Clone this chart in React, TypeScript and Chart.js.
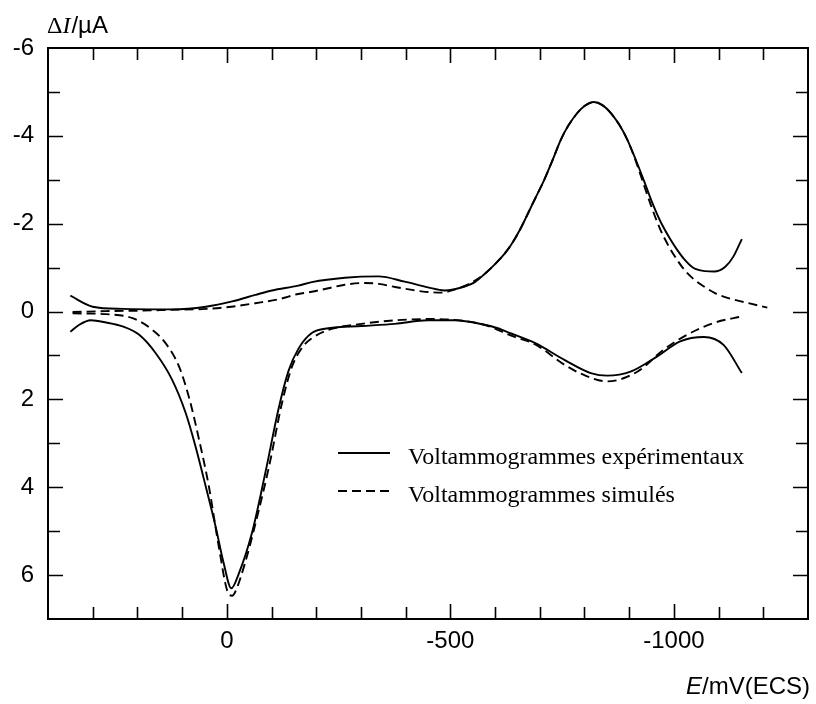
import React, { useEffect, useRef } from 'react';
import { Chart, registerables } from 'chart.js';

Chart.register(...registerables);

// ---- Data (E in mV vs ECS, ΔI in µA) ----
const expUpperE = [350, 300, 233, 122, 47, -12, -64, -101, -160, -190, -264, -339, -398, -450, -487, -532, -555, -576, -600, -620, -636, -655, -673, -690, -710, -730, -747, -765, -784, -800, -821, -840, -859, -878, -896, -915, -933, -950, -970, -990, -1007, -1025, -1044, -1070, -1090, -1115, -1133, -1152];
const expUpperI = [-0.36, -0.11, -0.06, -0.05, -0.11, -0.23, -0.38, -0.48, -0.59, -0.67, -0.77, -0.8, -0.68, -0.55, -0.48, -0.57, -0.67, -0.85, -1.08, -1.3, -1.52, -1.85, -2.22, -2.58, -3.0, -3.48, -3.91, -4.25, -4.52, -4.68, -4.77, -4.7, -4.52, -4.25, -3.91, -3.45, -2.98, -2.52, -2.05, -1.68, -1.41, -1.17, -0.99, -0.92, -0.91, -1.02, -1.25, -1.65];

const expLowerE = [350, 330, 304, 270, 233, 196, 159, 122, 92, 70, 47, 25, 7, -10, -27, -56, -86, -116, -138, -160, -190, -227, -302, -376, -450, -509, -576, -606, -636, -690, -755, -814, -851, -903, -963, -1014, -1067, -1111, -1152];
const expLowerI = [0.46, 0.3, 0.2, 0.25, 0.34, 0.53, 0.95, 1.56, 2.31, 3.07, 3.99, 4.9, 5.73, 6.3, 5.96, 5.05, 3.68, 2.2, 1.35, 0.85, 0.49, 0.38, 0.33, 0.28, 0.2, 0.2, 0.3, 0.38, 0.5, 0.72, 1.1, 1.4, 1.46, 1.37, 1.02, 0.68, 0.58, 0.76, 1.4];

const simUpperE = [345, 270, 196, 122, 47, -10, -64, -116, -160, -190, -227, -264, -309, -340, -376, -435, -480, -509, -540, -576, -600, -620, -636, -655, -673, -690, -710, -730, -747, -765, -784, -800, -821, -840, -859, -878, -896, -915, -933, -950, -970, -990, -1007, -1025, -1044, -1070, -1092, -1111, -1163, -1209];
const simUpperI = [0.01, -0.01, -0.02, -0.04, -0.06, -0.11, -0.19, -0.28, -0.4, -0.45, -0.53, -0.61, -0.65, -0.63, -0.56, -0.46, -0.43, -0.5, -0.62, -0.85, -1.08, -1.3, -1.52, -1.85, -2.22, -2.58, -3.0, -3.48, -3.91, -4.25, -4.52, -4.68, -4.77, -4.7, -4.52, -4.25, -3.91, -3.42, -2.88, -2.38, -1.86, -1.46, -1.18, -0.93, -0.74, -0.55, -0.42, -0.34, -0.2, -0.09];

const simLowerE = [345, 270, 211, 166, 137, 107, 85, 62, 40, 18, -3, -12, -19, -40, -66, -95, -123, -146, -170, -190, -227, -302, -376, -450, -509, -576, -636, -690, -755, -800, -851, -918, -977, -1022, -1089, -1152];
const simLowerI = [0.04, 0.06, 0.15, 0.42, 0.72, 1.25, 1.94, 2.92, 3.99, 5.35, 6.41, 6.47, 6.38, 5.75, 4.75, 3.5, 2.1, 1.25, 0.8, 0.61, 0.42, 0.28, 0.2, 0.17, 0.19, 0.3, 0.55, 0.75, 1.21, 1.45, 1.59, 1.37, 0.87, 0.57, 0.26, 0.11];

// ---- Axes ----
const xMin = -1300;
const xMax = 400;
const xStep = 100;
const xMajorEvery = 500;
const xLabelValues = [0, -500, -1000];
const yMin = -6;
const yMax = 7;
const yStep = 1;
const yLabelValues = [-6, -4, -2, 0, 2, 4, 6];

const legendLabels = ['Voltammogrammes expérimentaux', 'Voltammogrammes simulés'];

const SANS = '"Liberation Sans", Arial, Helvetica, sans-serif';
const SERIF = '"Liberation Serif", "Times New Roman", Times, serif';
const DASH = [9, 5];

const pts = (xs: number[], ys: number[]) => xs.map((x, i) => ({ x, y: ys[i] }));

const framePlugin = {
  id: 'frameTicks',
  afterDatasetsDraw(chart: any) {
    const { ctx, chartArea: a } = chart;
    const xs = chart.scales.x;
    const ys = chart.scales.y;
    ctx.save();
    ctx.strokeStyle = '#000';
    ctx.lineWidth = 2;
    ctx.strokeRect(a.left, a.top, a.right - a.left, a.bottom - a.top);
    ctx.lineWidth = 1.6;
    ctx.beginPath();
    for (let v = xMin + xStep; v < xMax; v += xStep) {
      const p = Math.round(xs.getPixelForValue(v)) + 0.5;
      const len = v % xMajorEvery === 0 ? 15 : 12;
      ctx.moveTo(p, a.bottom);
      ctx.lineTo(p, a.bottom - len);
      ctx.moveTo(p, a.top);
      ctx.lineTo(p, a.top + len);
    }
    for (let v = yMin + yStep; v < yMax; v += yStep) {
      const p = Math.round(ys.getPixelForValue(v)) + 0.5;
      const len = v % 2 === 0 ? 15 : 12;
      ctx.moveTo(a.left, p);
      ctx.lineTo(a.left + len, p);
      ctx.moveTo(a.right, p);
      ctx.lineTo(a.right - len, p);
    }
    ctx.stroke();

    // Legend
    const lx0 = 338, lx1 = 390, tx = 408;
    const rows = [453, 491];
    ctx.lineWidth = 1.8;
    rows.forEach((y, i) => {
      ctx.setLineDash(i === 1 ? DASH : []);
      ctx.beginPath();
      ctx.moveTo(lx0, y);
      ctx.lineTo(lx1, y);
      ctx.stroke();
    });
    ctx.setLineDash([]);
    ctx.fillStyle = '#000';
    ctx.textBaseline = 'alphabetic';
    ctx.textAlign = 'left';
    ctx.font = `24px ${SERIF}`;
    ctx.fillText(legendLabels[0], tx, rows[0] + 11);
    ctx.fillText(legendLabels[1], tx, rows[1] + 11);

    // Y title: ΔI/µA
    let x = 47;
    const yb = 33;
    ctx.font = `24px ${SERIF}`;
    ctx.fillText('Δ', x, yb);
    x += ctx.measureText('Δ').width;
    ctx.font = `italic 24px ${SERIF}`;
    ctx.fillText('I', x, yb);
    x += ctx.measureText('I').width + 1;
    ctx.font = `24px ${SANS}`;
    ctx.fillText('/µA', x, yb);

    // X title: E/mV(ECS)
    ctx.font = `italic 24px ${SANS}`;
    const wE = ctx.measureText('E').width;
    ctx.font = `24px ${SANS}`;
    const wR = ctx.measureText('/mV(ECS)').width;
    const xr = 810;
    const xb = 694;
    ctx.font = `italic 24px ${SANS}`;
    ctx.fillText('E', xr - wR - wE, xb);
    ctx.font = `24px ${SANS}`;
    ctx.fillText('/mV(ECS)', xr - wR, xb);
    ctx.restore();
  },
};

export default function App() {
  const ref = useRef<HTMLCanvasElement | null>(null);
  useEffect(() => {
    if (!ref.current) return;
    const line = (xs: number[], ys: number[], dashed: boolean) => ({
      data: pts(xs, ys),
      borderColor: '#000',
      borderWidth: 1.9,
      borderDash: dashed ? DASH : [],
      pointRadius: 0,
      fill: false,
      cubicInterpolationMode: 'monotone' as const,
    });
    const chart = new Chart(ref.current, {
      type: 'line',
      data: {
        datasets: [
          line(expUpperE, expUpperI, false),
          line(expLowerE, expLowerI, false),
          line(simUpperE, simUpperI, true),
          line(simLowerE, simLowerI, true),
        ],
      },
      options: {
        animation: false,
        responsive: false,
        devicePixelRatio: 1,
        layout: { padding: { top: 48, right: 4, left: 0, bottom: 0 } },
        plugins: { legend: { display: false }, tooltip: { enabled: false }, title: { display: false } },
        events: [],
        scales: {
          x: {
            type: 'linear',
            min: xMin,
            max: xMax,
            reverse: true,
            grid: { display: false, drawTicks: false },
            border: { display: false },
            afterFit: (s: any) => { s.height = 85; },
            ticks: {
              stepSize: xStep,
              autoSkip: false,
              maxRotation: 0,
              padding: 8,
              color: '#000',
              font: { family: SANS, size: 24 },
              callback: (v: any) => (xLabelValues.includes(Number(v)) ? String(v) : ''),
            },
          },
          y: {
            type: 'linear',
            min: yMin,
            max: yMax,
            reverse: true,
            grid: { display: false, drawTicks: false },
            border: { display: false },
            afterFit: (s: any) => { s.width = 48; },
            ticks: {
              stepSize: yStep,
              autoSkip: false,
              padding: 14,
              color: '#000',
              font: { family: SANS, size: 24 },
              callback: (v: any) => (yLabelValues.includes(Number(v)) ? String(v) : ''),
            },
          },
        },
      },
      plugins: [framePlugin],
    });
    return () => chart.destroy();
  }, []);
  return (
    <div style={{ position: 'absolute', left: 0, top: 0, width: 816, height: 704, background: '#fff' }}>
      <canvas ref={ref} width={816} height={704} style={{ display: 'block' }} />
    </div>
  );
}
